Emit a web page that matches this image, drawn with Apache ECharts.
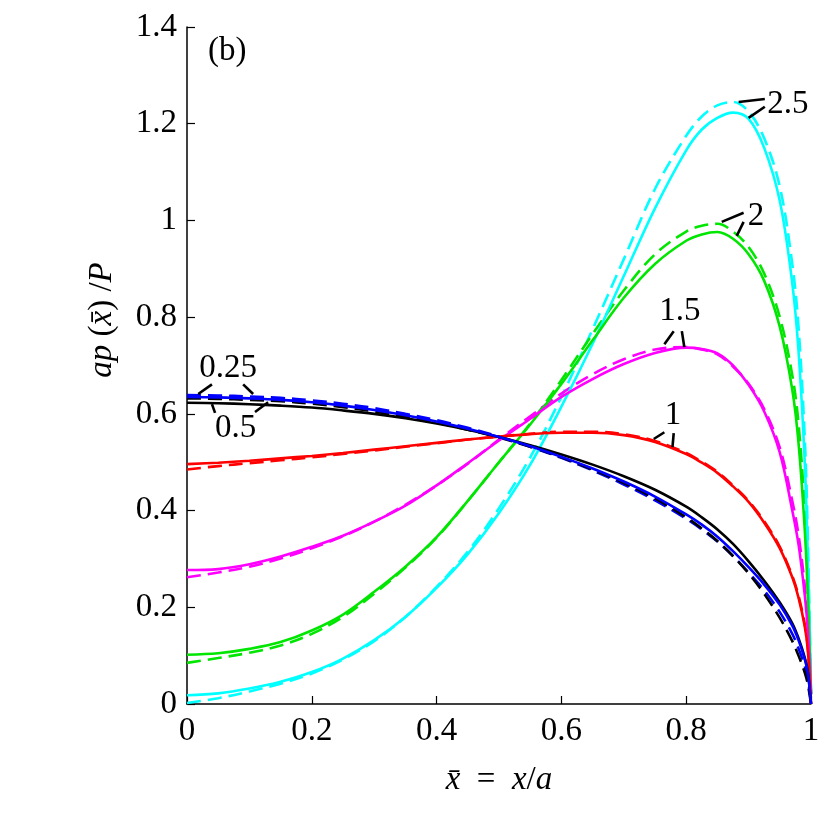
<!DOCTYPE html>
<html>
<head>
<meta charset="utf-8">
<script src="https://cdn.jsdelivr.net/npm/echarts@6/dist/echarts.min.js"></script>
<style>
html, body { margin: 0; padding: 0; background: #fff; }
#main_chart { width: 830px; height: 830px; }
</style>
</head>
<body>
<div id="main_chart"></div>
<script>
// x positions (x bar = x/a)
var xs = [0, 0.05, 0.1, 0.15, 0.2, 0.25, 0.3, 0.35, 0.4, 0.45, 0.5, 0.55, 0.6, 0.65, 0.7, 0.75, 0.8, 0.825, 0.85, 0.875, 0.9, 0.925, 0.95, 0.97, 0.98, 0.99, 0.995, 1];

// solid curves
var blueSolid    = [0.635, 0.634, 0.632, 0.629, 0.624, 0.617, 0.608, 0.597, 0.584, 0.569, 0.552, 0.533, 0.511, 0.487, 0.46, 0.429, 0.392, 0.371, 0.346, 0.316, 0.283, 0.247, 0.205, 0.162, 0.132, 0.093, 0.064, 0];
var blackSolid   = [0.623, 0.622, 0.62, 0.617, 0.613, 0.607, 0.6, 0.591, 0.58, 0.567, 0.552, 0.535, 0.516, 0.495, 0.471, 0.443, 0.408, 0.386, 0.361, 0.331, 0.295, 0.255, 0.21, 0.167, 0.136, 0.096, 0.067, 0];
var redSolid     = [0.496, 0.499, 0.503, 0.508, 0.513, 0.519, 0.526, 0.533, 0.54, 0.547, 0.553, 0.558, 0.561, 0.561, 0.556, 0.542, 0.517, 0.499, 0.478, 0.45, 0.418, 0.375, 0.322, 0.262, 0.22, 0.16, 0.11, 0];
var magentaSolid = [0.277, 0.279, 0.289, 0.305, 0.325, 0.348, 0.377, 0.41, 0.452, 0.498, 0.545, 0.59, 0.635, 0.672, 0.703, 0.726, 0.737, 0.734, 0.725, 0.7, 0.66, 0.605, 0.52, 0.4, 0.33, 0.225, 0.15, 0.02];
var greenSolid   = [0.102, 0.105, 0.114, 0.128, 0.152, 0.185, 0.232, 0.284, 0.345, 0.42, 0.5, 0.578, 0.662, 0.752, 0.84, 0.91, 0.958, 0.971, 0.976, 0.962, 0.93, 0.875, 0.78, 0.65, 0.54, 0.36, 0.22, 0.02];
var cyanSolid    = [0.018, 0.022, 0.032, 0.046, 0.066, 0.094, 0.132, 0.18, 0.24, 0.31, 0.395, 0.495, 0.615, 0.745, 0.885, 1.025, 1.145, 1.188, 1.212, 1.223, 1.21, 1.15, 1.04, 0.87, 0.73, 0.5, 0.3, 0.02];

// dashed curves
var blueDash     = [0.639, 0.638, 0.636, 0.633, 0.628, 0.621, 0.612, 0.6, 0.587, 0.571, 0.553, 0.532, 0.509, 0.483, 0.454, 0.421, 0.383, 0.361, 0.336, 0.306, 0.272, 0.235, 0.19, 0.145, 0.115, 0.078, 0.052, 0];
var blackDash    = [0.632, 0.631, 0.629, 0.626, 0.621, 0.614, 0.605, 0.594, 0.582, 0.567, 0.551, 0.532, 0.51, 0.485, 0.457, 0.425, 0.386, 0.363, 0.337, 0.306, 0.27, 0.228, 0.178, 0.13, 0.1, 0.065, 0.04, 0];
var redDash      = [0.485, 0.492, 0.498, 0.504, 0.51, 0.517, 0.524, 0.532, 0.539, 0.547, 0.553, 0.559, 0.563, 0.563, 0.558, 0.544, 0.519, 0.501, 0.48, 0.452, 0.42, 0.378, 0.325, 0.265, 0.224, 0.165, 0.115, 0];
var magentaDash  = [0.262, 0.272, 0.284, 0.301, 0.322, 0.347, 0.377, 0.412, 0.452, 0.497, 0.547, 0.595, 0.642, 0.682, 0.713, 0.733, 0.738, 0.733, 0.723, 0.698, 0.662, 0.61, 0.53, 0.42, 0.35, 0.245, 0.165, 0.02];
var greenDash    = [0.085, 0.095, 0.106, 0.121, 0.145, 0.18, 0.228, 0.282, 0.344, 0.42, 0.5, 0.58, 0.67, 0.765, 0.855, 0.93, 0.977, 0.989, 0.993, 0.977, 0.945, 0.89, 0.8, 0.68, 0.58, 0.4, 0.25, 0.02];
var cyanDash     = [0.002, 0.012, 0.026, 0.042, 0.063, 0.092, 0.13, 0.18, 0.242, 0.315, 0.405, 0.51, 0.635, 0.775, 0.92, 1.065, 1.175, 1.215, 1.238, 1.245, 1.225, 1.17, 1.07, 0.91, 0.78, 0.55, 0.34, 0.02];

// curve labels and leader lines (data coords)
var labelNames = ['2.5', '2', '1.5', '1', '0.25', '0.5'];
var labelPos = [[0.963, 1.24], [0.912, 1.008], [0.79, 0.812], [0.779, 0.596], [0.066, 0.695], [0.078, 0.571]];
var leaders = [
	[[0.884, 1.245], [0.926, 1.251]], [[0.9, 1.212], [0.926, 1.235]],
	[[0.857, 0.997], [0.892, 1.016]], [[0.881, 0.968], [0.892, 0.997]],
	[[0.765, 0.744], [0.78, 0.771]], [[0.797, 0.738], [0.793, 0.771]],
	[[0.748, 0.548], [0.765, 0.562]], [[0.778, 0.531], [0.78, 0.56]],
	[[0.018, 0.641], [0.04, 0.661]], [[0.106, 0.641], [0.09, 0.661]],
	[[0.04, 0.62], [0.045, 0.602]], [[0.13, 0.624], [0.109, 0.604]]
];

var serif = 'Liberation Serif';
var fs = 33;

function pairs(vals) {
	var out = [];
	for (var i = 0; i < xs.length; i++) {
		out.push([xs[i], vals[i]]);
	}
	return out;
}

function lineSeries(vals, color, dashed) {
	return {
		type: 'line',
		data: pairs(vals),
		smooth: 0.35,
		symbol: 'none',
		silent: true,
		z: dashed ? 2 : 3,
		lineStyle: {
			color: color,
			width: 2.6,
			type: dashed ? [14, 7] : 'solid'
		}
	};
}

function makeEchart() {
	var chart_do = document.getElementById('main_chart');
	var chart = echarts.init(chart_do);

	var seriesArr = [
		lineSeries(cyanDash, '#00ffff', true),
		lineSeries(greenDash, '#00e600', true),
		lineSeries(magentaDash, '#ff00ff', true),
		lineSeries(redDash, '#ff0000', true),
		lineSeries(blueDash, '#0000ff', true),
		lineSeries(blackDash, '#000000', true),
		lineSeries(cyanSolid, '#00ffff', false),
		lineSeries(greenSolid, '#00e600', false),
		lineSeries(magentaSolid, '#ff00ff', false),
		lineSeries(redSolid, '#ff0000', false),
		lineSeries(blackSolid, '#000000', false),
		lineSeries(blueSolid, '#0000ff', false)
	];

	var leaderData = [];
	for (var i = 0; i < leaders.length; i++) {
		leaderData.push([{ coord: leaders[i][0] }, { coord: leaders[i][1] }]);
	}

	var labelData = [];
	for (var j = 0; j < labelNames.length; j++) {
		labelData.push({ name: labelNames[j], value: labelPos[j] });
	}

	seriesArr.push({
		type: 'scatter',
		data: labelData,
		symbolSize: 0,
		silent: true,
		z: 10,
		itemStyle: { color: '#000', opacity: 1 },
		label: {
			show: true,
			position: [0, 0],
			align: 'center',
			verticalAlign: 'middle',
			formatter: '{b}',
			fontFamily: serif,
			fontSize: fs,
			color: '#000',
			opacity: 1
		},
		markLine: {
			silent: true,
			symbol: 'none',
			animation: false,
			label: { show: false },
			lineStyle: { color: '#000', width: 2.6, type: 'solid', opacity: 1 },
			data: leaderData
		}
	});

	var richStyles = {
		i: { fontFamily: serif, fontSize: fs, fontStyle: 'italic', color: '#000' },
		n: { fontFamily: serif, fontSize: fs, color: '#000' }
	};

	var option = {
		animation: false,
		backgroundColor: '#fff',
		grid: { left: 187, right: 19, top: 27, bottom: 126 },
		xAxis: {
			type: 'value',
			min: 0,
			max: 1,
			interval: 0.2,
			name: '{i|x\u0304}{n|\u2002=\u2002}{i|x}{n|/}{i|a}',
			nameLocation: 'middle',
			nameGap: 60,
			nameTextStyle: { rich: richStyles },
			axisLine: { lineStyle: { color: '#000', width: 1.5 } },
			axisTick: { inside: true, length: 8, lineStyle: { color: '#000', width: 1.2 } },
			axisLabel: { fontFamily: serif, fontSize: fs, color: '#000', margin: 11 },
			splitLine: { show: false }
		},
		yAxis: {
			type: 'value',
			min: 0,
			max: 1.4,
			interval: 0.2,
			axisLine: { lineStyle: { color: '#000', width: 1.5 } },
			axisTick: { inside: true, length: 8, lineStyle: { color: '#000', width: 1.2 } },
			axisLabel: { fontFamily: serif, fontSize: fs, color: '#000', margin: 10 },
			splitLine: { show: false }
		},
		graphic: [{
			type: 'text',
			left: 208,
			top: 35,
			style: { text: '(b)', font: fs + 'px "Liberation Serif"', fill: '#000' }
		}, {
			type: 'text',
			x: 102,
			y: 320,
			rotation: Math.PI / 2,
			style: {
				text: '{i|ap}{n| (}{i|x\u0304}{n|) /}{i|P}',
				rich: richStyles,
				align: 'center',
				verticalAlign: 'middle'
			}
		}],
		series: seriesArr
	};

	chart.setOption(option);
}

makeEchart();
</script>
</body>
</html>
